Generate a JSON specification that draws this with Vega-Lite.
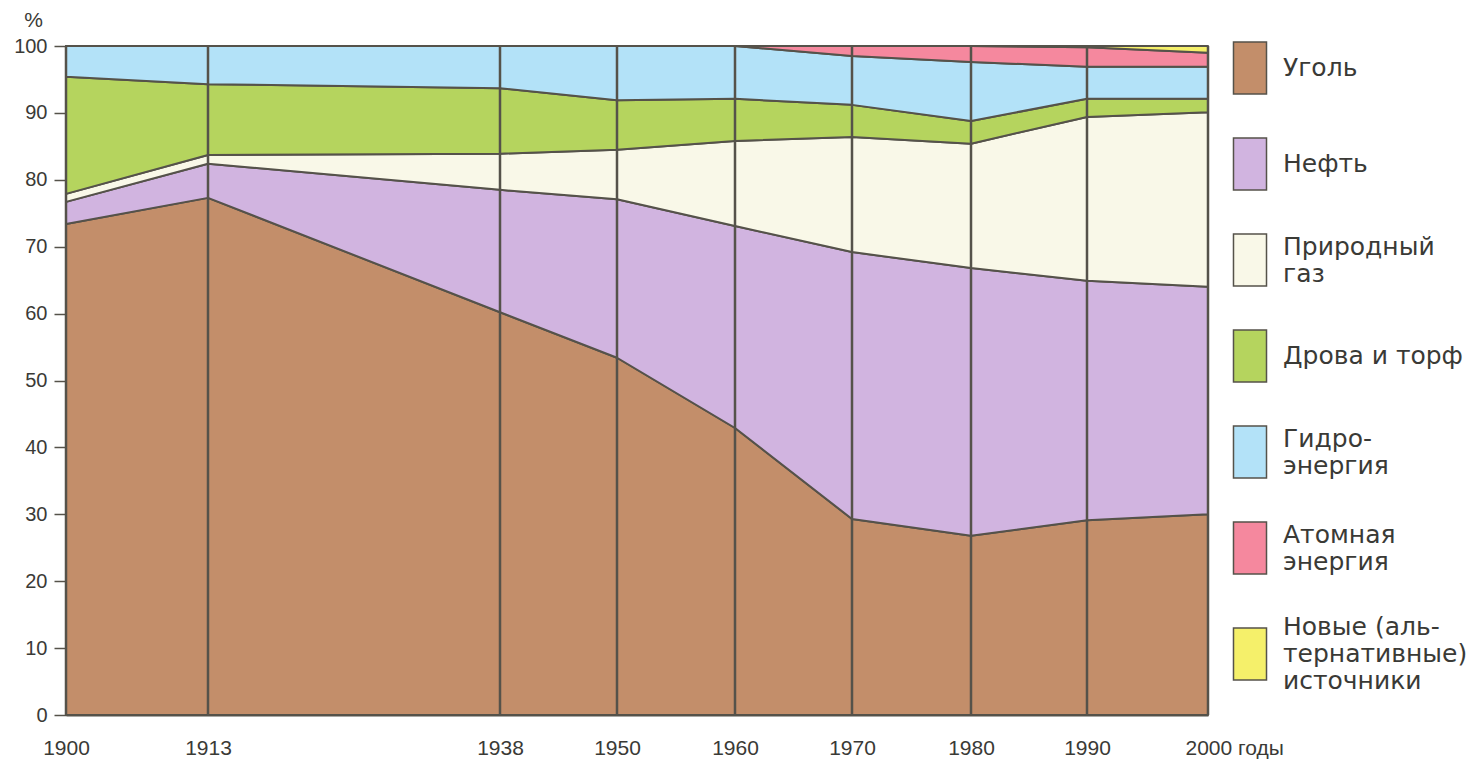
{
  "$schema": "https://vega.github.io/schema/vega-lite/v6.json",
  "width": 1142,
  "height": 669,
  "autosize": {"type": "none"},
  "padding": {"left": 66, "top": 46, "right": 276, "bottom": 44},
  "background": "white",
  "config": {"view": {"stroke": null}},
  "data": {
    "values": [
      {"year": 1900, "source": "Уголь", "ord": 1, "value": 73.4},
      {"year": 1900, "source": "Нефть", "ord": 2, "value": 3.3},
      {"year": 1900, "source": "Природный газ", "ord": 3, "value": 1.2},
      {"year": 1900, "source": "Дрова и торф", "ord": 4, "value": 17.5},
      {"year": 1900, "source": "Гидроэнергия", "ord": 5, "value": 4.6},
      {"year": 1900, "source": "Атомная энергия", "ord": 6, "value": 0},
      {"year": 1900, "source": "Новые (альтернативные) источники", "ord": 7, "value": 0},
      {"year": 1913, "source": "Уголь", "ord": 1, "value": 77.3},
      {"year": 1913, "source": "Нефть", "ord": 2, "value": 5.1},
      {"year": 1913, "source": "Природный газ", "ord": 3, "value": 1.3},
      {"year": 1913, "source": "Дрова и торф", "ord": 4, "value": 10.6},
      {"year": 1913, "source": "Гидроэнергия", "ord": 5, "value": 5.7},
      {"year": 1913, "source": "Атомная энергия", "ord": 6, "value": 0},
      {"year": 1913, "source": "Новые (альтернативные) источники", "ord": 7, "value": 0},
      {"year": 1938, "source": "Уголь", "ord": 1, "value": 60.2},
      {"year": 1938, "source": "Нефть", "ord": 2, "value": 18.3},
      {"year": 1938, "source": "Природный газ", "ord": 3, "value": 5.4},
      {"year": 1938, "source": "Дрова и торф", "ord": 4, "value": 9.8},
      {"year": 1938, "source": "Гидроэнергия", "ord": 5, "value": 6.3},
      {"year": 1938, "source": "Атомная энергия", "ord": 6, "value": 0},
      {"year": 1938, "source": "Новые (альтернативные) источники", "ord": 7, "value": 0},
      {"year": 1950, "source": "Уголь", "ord": 1, "value": 53.4},
      {"year": 1950, "source": "Нефть", "ord": 2, "value": 23.7},
      {"year": 1950, "source": "Природный газ", "ord": 3, "value": 7.4},
      {"year": 1950, "source": "Дрова и торф", "ord": 4, "value": 7.4},
      {"year": 1950, "source": "Гидроэнергия", "ord": 5, "value": 8.1},
      {"year": 1950, "source": "Атомная энергия", "ord": 6, "value": 0},
      {"year": 1950, "source": "Новые (альтернативные) источники", "ord": 7, "value": 0},
      {"year": 1960, "source": "Уголь", "ord": 1, "value": 42.9},
      {"year": 1960, "source": "Нефть", "ord": 2, "value": 30.2},
      {"year": 1960, "source": "Природный газ", "ord": 3, "value": 12.7},
      {"year": 1960, "source": "Дрова и торф", "ord": 4, "value": 6.3},
      {"year": 1960, "source": "Гидроэнергия", "ord": 5, "value": 7.9},
      {"year": 1960, "source": "Атомная энергия", "ord": 6, "value": 0},
      {"year": 1960, "source": "Новые (альтернативные) источники", "ord": 7, "value": 0},
      {"year": 1970, "source": "Уголь", "ord": 1, "value": 29.3},
      {"year": 1970, "source": "Нефть", "ord": 2, "value": 39.9},
      {"year": 1970, "source": "Природный газ", "ord": 3, "value": 17.2},
      {"year": 1970, "source": "Дрова и торф", "ord": 4, "value": 4.8},
      {"year": 1970, "source": "Гидроэнергия", "ord": 5, "value": 7.3},
      {"year": 1970, "source": "Атомная энергия", "ord": 6, "value": 1.5},
      {"year": 1970, "source": "Новые (альтернативные) источники", "ord": 7, "value": 0},
      {"year": 1980, "source": "Уголь", "ord": 1, "value": 26.8},
      {"year": 1980, "source": "Нефть", "ord": 2, "value": 40.0},
      {"year": 1980, "source": "Природный газ", "ord": 3, "value": 18.6},
      {"year": 1980, "source": "Дрова и торф", "ord": 4, "value": 3.4},
      {"year": 1980, "source": "Гидроэнергия", "ord": 5, "value": 8.8},
      {"year": 1980, "source": "Атомная энергия", "ord": 6, "value": 2.4},
      {"year": 1980, "source": "Новые (альтернативные) источники", "ord": 7, "value": 0},
      {"year": 1990, "source": "Уголь", "ord": 1, "value": 29.1},
      {"year": 1990, "source": "Нефть", "ord": 2, "value": 35.8},
      {"year": 1990, "source": "Природный газ", "ord": 3, "value": 24.5},
      {"year": 1990, "source": "Дрова и торф", "ord": 4, "value": 2.7},
      {"year": 1990, "source": "Гидроэнергия", "ord": 5, "value": 4.8},
      {"year": 1990, "source": "Атомная энергия", "ord": 6, "value": 2.9},
      {"year": 1990, "source": "Новые (альтернативные) источники", "ord": 7, "value": 0.2},
      {"year": 2000, "source": "Уголь", "ord": 1, "value": 30.0},
      {"year": 2000, "source": "Нефть", "ord": 2, "value": 34.0},
      {"year": 2000, "source": "Природный газ", "ord": 3, "value": 26.1},
      {"year": 2000, "source": "Дрова и торф", "ord": 4, "value": 2.0},
      {"year": 2000, "source": "Гидроэнергия", "ord": 5, "value": 4.8},
      {"year": 2000, "source": "Атомная энергия", "ord": 6, "value": 2.1},
      {"year": 2000, "source": "Новые (альтернативные) источники", "ord": 7, "value": 1.0}
    ]
  },
  "encoding": {
    "x": {
      "field": "year",
      "type": "quantitative",
      "scale": {
        "domain": [1900, 1913, 1938, 1950, 1960, 1970, 1980, 1990, 2000],
        "range": [0, 142, 434, 551, 669, 786, 905, 1021, 1142],
        "nice": false,
        "zero": false
      },
      "axis": {
        "title": null,
        "values": [1900, 1913, 1938, 1950, 1960, 1970, 1980, 1990, 2000],
        "format": "d",
        "grid": false,
        "ticks": false,
        "domain": true,
        "domainColor": "#55524a",
        "domainWidth": 2,
        "labelPadding": 39,
        "labelBaseline": "alphabetic",
        "labelFont": "Liberation Sans",
        "labelFontSize": 21,
        "labelColor": "#3a3a36",
        "labelFlush": false,
        "labelOverlap": false,
        "labelExpr": "datum.value == 2000 ? '2000 годы' : datum.label",
        "labelAlign": {"condition": {"test": "datum.value == 2000", "value": "left"}, "value": "center"},
        "labelOffset": {"condition": {"test": "datum.value == 2000", "value": -23}, "value": 0}
      }
    }
  },
  "layer": [
    {
      "mark": {"type": "area", "stroke": "#55524a", "strokeWidth": 2, "strokeJoin": "round", "opacity": 1},
      "encoding": {
        "y": {
          "field": "value",
          "type": "quantitative",
          "stack": "zero",
          "scale": {"domain": [0, 100], "nice": false},
          "axis": {
            "title": "%",
            "titleAngle": 0,
            "titleX": -33,
            "titleY": -16,
            "titleAlign": "center",
            "titleBaseline": "bottom",
            "titleFont": "Liberation Sans",
            "titleFontSize": 21,
            "titleFontWeight": "normal",
            "titleColor": "#3a3a36",
            "values": [0, 10, 20, 30, 40, 50, 60, 70, 80, 90, 100],
            "grid": false,
            "domain": false,
            "ticks": true,
            "tickSize": 12,
            "tickColor": "#55524a",
            "tickWidth": 1.5,
            "labelPadding": 7,
            "labelFont": "Liberation Sans",
            "labelFontSize": 20,
            "labelColor": "#3a3a36"
          }
        },
        "order": {"field": "ord", "type": "quantitative", "sort": "ascending"},
        "color": {
          "field": "source",
          "type": "nominal",
          "scale": {
            "domain": ["Уголь", "Нефть", "Природный газ", "Дрова и торф", "Гидроэнергия", "Атомная энергия", "Новые (альтернативные) источники"],
            "range": ["#c38e6a", "#d1b4e0", "#f9f8e8", "#b5d45e", "#b3e2f8", "#f5889e", "#f5f06a"]
          },
          "legend": {
            "title": null,
            "orient": "none",
            "legendX": 1157,
            "legendY": -5,
            "padding": 0,
            "symbolType": "M-0.635,-1H0.635V1H-0.635Z",
            "symbolSize": 2704,
            "symbolStrokeColor": "#55524a",
            "symbolStrokeWidth": 1.5,
            "symbolOpacity": 1,
            "rowPadding": 38,
            "labelOffset": 6,
            "labelFont": "DejaVu Sans",
            "labelFontSize": 25,
            "labelColor": "#3a3a36",
            "labelLimit": 400,
            "labelBaseline": "middle",
            "labelExpr": "datum.label == 'Природный газ' ? ['Природный', ' газ'] : datum.label == 'Гидроэнергия' ? ['Гидро-', 'энергия'] : datum.label == 'Атомная энергия' ? ['Атомная', 'энергия'] : datum.label == 'Новые (альтернативные) источники' ? ['Новые (аль-', 'тернативные)', 'источники'] : datum.label",
            "encoding": {
              "labels": {
                "dy": {"value": {"expr": "datum.value == 'Новые (альтернативные) источники' ? -27 : (datum.value == 'Природный газ' || datum.value == 'Гидроэнергия' || datum.value == 'Атомная энергия') ? -13 : 0"}}
              }
            }
          }
        }
      }
    },
    {
      "transform": [{"aggregate": [{"op": "count", "as": "n"}], "groupby": ["year"]}],
      "mark": {"type": "rule", "color": "#55524a", "strokeWidth": 2.5},
      "encoding": {
        "y": {"datum": 0},
        "y2": {"datum": 100}
      }
    }
  ]
}
